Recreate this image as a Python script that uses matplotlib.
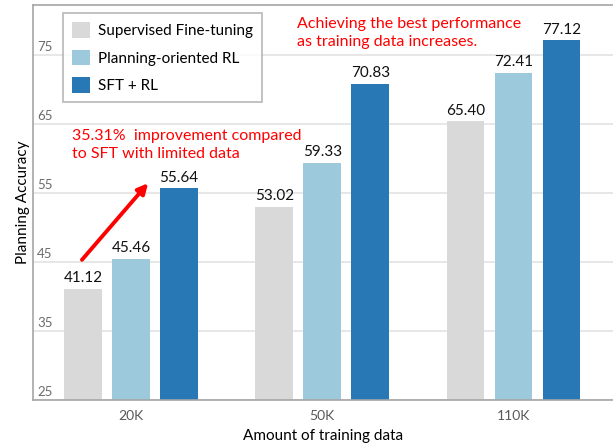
import matplotlib
matplotlib.use("Agg")
import matplotlib.pyplot as plt
import matplotlib.transforms as mtransforms
import numpy as np

categories = ["20K", "50K", "110K"]
series_names = ["Supervised Fine-tuning", "Planning-oriented RL", "SFT + RL"]
sft = [41.12, 53.02, 65.40]
rl = [45.46, 59.33, 72.41]
sft_rl = [55.64, 70.83, 77.12]
yticks = [25, 35, 45, 55, 65, 75]
colors = ["#D9D9D9", "#9DC9DC", "#2878B5"]

plt.rcParams['font.family'] = ['Lato', 'DejaVu Sans']

fig = plt.figure(figsize=(6.13, 4.43), dpi=100)
ax = fig.add_axes([33/613, 1-400/443, 1-33/613, (400-5)/443])

x = np.arange(len(categories))
width = 0.197
step = 0.251
for i, (vals, name, c) in enumerate(zip([sft, rl, sft_rl], series_names, colors)):
    pos = x + (i - 1) * step
    ax.bar(pos, vals, width, color=c, label=name, zorder=2)
    for p, v in zip(pos, vals):
        ax.text(p, v + 0.5, f"{v:.2f}", ha="center", va="bottom", fontsize=11, color="#111111", zorder=3)

ax.set_ylim(25, 82.2)
ax.set_xlim(-0.513, 2.52)
ax.set_yticks(yticks)
ax.set_yticklabels([str(t) for t in yticks])
ax.yaxis.grid(True, color="#E3E3E3", linewidth=1.2, zorder=0)
ax.set_axisbelow(True)
ax.tick_params(axis="y", length=0, pad=-3, labelsize=9.5, labelcolor="#6B6B6B")
ax.tick_params(axis="x", length=0, pad=7, labelsize=10, labelcolor="#595959")
for lab in ax.get_yticklabels():
    lab.set_horizontalalignment("left")
    lab.set_verticalalignment("bottom")
    lab.set_transform(lab.get_transform() + mtransforms.ScaledTranslation(0, 2/100, fig.dpi_scale_trans))
ax.set_xticks(x)
ax.set_xticklabels(categories)

for s in ["left", "bottom", "top"]:
    ax.spines[s].set_color("#A6A6A6")
    ax.spines[s].set_linewidth(1.2)
ax.spines["right"].set_visible(False)

ax.set_xlabel("Amount of training data", fontsize=11, labelpad=5)
ax.set_ylabel("Planning Accuracy", fontsize=11, labelpad=2)

leg = ax.legend(loc="upper left", bbox_to_anchor=(30/580, 1-8/395), fontsize=11,
                frameon=True, fancybox=False, edgecolor="#A6A6A6", handlelength=1.18,
                handleheight=1.18, labelspacing=0.76, borderpad=0.6, handletextpad=0.5,
                borderaxespad=0)
leg.get_frame().set_linewidth(1.2)

ax.text(0.867, 80.5, "Achieving the best performance\nas training data increases.",
        color="red", fontsize=11.5, ha="left", va="top", linespacing=1.35)
ax.text(-0.307, 64.2, "35.31%  improvement compared\nto SFT with limited data",
        color="red", fontsize=11.5, ha="left", va="top", linespacing=1.35)
ax.annotate("", xy=(0.089, 56.4), xytext=(-0.257, 45.3),
            arrowprops=dict(arrowstyle="-|>,head_length=0.6,head_width=0.3", color="red", lw=2.8,
                            shrinkA=0, shrinkB=0), zorder=4)

fig.savefig("out.png", dpi=100)
